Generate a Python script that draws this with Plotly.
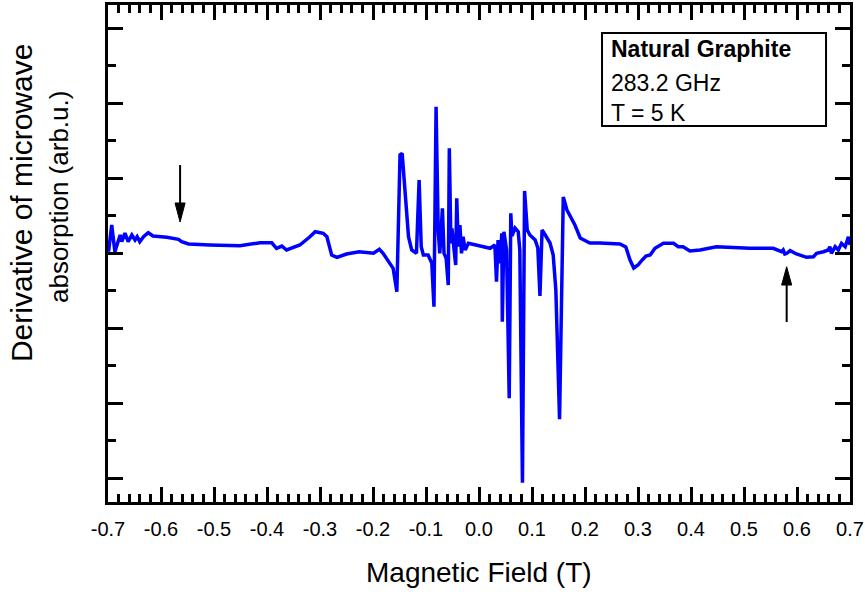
import plotly.graph_objects as go

# ---- data ----
field = [-0.699, -0.693, -0.687, -0.677, -0.674, -0.668, -0.662, -0.655, -0.649, -0.645,
         -0.640, -0.633, -0.624, -0.615, -0.589, -0.567, -0.561, -0.548, -0.508, -0.451,
         -0.413, -0.391, -0.382, -0.372, -0.363, -0.338, -0.319, -0.309, -0.294, -0.287,
         -0.278, -0.268, -0.250, -0.226, -0.199, -0.188, -0.181, -0.165, -0.162, -0.155,
         -0.149, -0.145, -0.140, -0.133, -0.127, -0.118, -0.113, -0.109, -0.105, -0.096,
         -0.089, -0.085, -0.081, -0.077, -0.074, -0.069, -0.066, -0.062, -0.058, -0.056,
         -0.053, -0.051, -0.047, -0.044, -0.042, -0.039, -0.036, -0.033, -0.030, -0.026,
         -0.020, -0.008, 0.021, 0.030, 0.033, 0.036, 0.040, 0.043, 0.044, 0.047,
         0.052, 0.057, 0.060, 0.062, 0.068, 0.074, 0.077, 0.082, 0.086, 0.091,
         0.096, 0.106, 0.111, 0.115, 0.119, 0.125, 0.134, 0.140, 0.145, 0.152,
         0.156, 0.159, 0.166, 0.181, 0.191, 0.200, 0.209, 0.228, 0.266, 0.277,
         0.285, 0.292, 0.300, 0.308, 0.315, 0.323, 0.332, 0.348, 0.367, 0.376,
         0.385, 0.398, 0.417, 0.448, 0.480, 0.511, 0.555, 0.571, 0.574, 0.577,
         0.581, 0.587, 0.599, 0.618, 0.631, 0.637, 0.650, 0.659, 0.662, 0.665,
         0.672, 0.678, 0.684, 0.691, 0.697, 0.700]
signal = [0.017, 0.373, 0.017, 0.240, 0.151, 0.267, 0.151, 0.240, 0.173, 0.217,
          0.151, 0.217, 0.271, 0.227, 0.209, 0.183, 0.151, 0.120, 0.107, 0.097,
          0.137, 0.137, 0.063, 0.093, 0.040, 0.107, 0.217, 0.284, 0.263, 0.217,
          -0.027, -0.057, -0.013, 0.017, -0.004, 0.049, -0.004, -0.160, -0.204, -0.516,
          1.307, 1.329, 0.840, 0.217, 0.040, -0.004, 0.973, 0.084, -0.027, -0.027,
          -0.137, -0.716, 1.951, 0.307, -0.004, 0.596, -0.004, -0.071, -0.427, 1.396,
          0.129, 0.329, 0.040, -0.160, 0.729, 0.084, 0.373, -0.004, 0.217, 0.040,
          0.129, 0.107, 0.063, 0.107, -0.383, 0.173, -0.137, 0.263, -0.916, 0.284,
          0.040, -1.937, 0.529, 0.227, 0.333, 0.284, 0.040, -3.063, 0.827, 0.307,
          0.240, 0.173, 0.067, -0.573, 0.307, 0.240, 0.133, -0.027, -0.493, -2.217,
          -0.693, 0.747, 0.573, 0.373, 0.200, 0.160, 0.133, 0.133, 0.120, 0.080,
          -0.093, -0.200, -0.160, -0.093, -0.040, -0.027, 0.063, 0.129, 0.129, 0.084,
          0.084, 0.027, 0.040, 0.084, 0.071, 0.063, 0.063, 0.017, 0.040, -0.013,
          -0.004, 0.031, -0.013, -0.057, -0.049, -0.004, 0.017, 0.040, 0.084, -0.004,
          0.084, 0.040, 0.129, 0.084, 0.217, 0.107]

x_tick_vals = [-0.7, -0.6, -0.5, -0.4, -0.3, -0.2, -0.1, 0.0, 0.1, 0.2, 0.3, 0.4, 0.5, 0.6, 0.7]
x_tick_text = ["-0.7", "-0.6", "-0.5", "-0.4", "-0.3", "-0.2", "-0.1", "0.0",
               "0.1", "0.2", "0.3", "0.4", "0.5", "0.6", "0.7"]
x_title = "Magnetic Field (T)"
y_title_lines = ["Derivative of microwave", "absorption (arb.u.)"]
box_lines = ["<b>Natural Graphite</b>", "283.2 GHz", "T = 5 K"]

# arrows: field position, tail, head base, tip (signal units)
arrow_field = [-0.564, 0.5805]
arrow_tail = [1.173, -0.92]
arrow_base = [0.667, -0.427]
arrow_tip = [0.413, -0.183]
arrow_half_width = 0.0095

FONT = "Liberation Sans, Arial, Helvetica, sans-serif"

fig = go.Figure(go.Scatter(x=field, y=signal, mode="lines",
                           line=dict(color="#0000ff", width=3.5)))

fig.update_layout(
    width=865, height=594,
    margin=dict(l=108, r=15, t=5, b=92),
    paper_bgcolor="white", plot_bgcolor="white",
    showlegend=False,
    font=dict(family=FONT, color="black"),
)

fig.update_xaxes(
    range=[-0.7, 0.7], tickmode="array", tickvals=x_tick_vals, ticktext=x_tick_text,
    showline=True, linewidth=3, linecolor="black", mirror="ticks",
    ticks="inside", ticklen=15, tickwidth=2.5, tickcolor="black",
    minor=dict(ticks="inside", ticklen=8, tickwidth=2.5, tickcolor="black",
               tick0=-0.7, dtick=0.02, showgrid=False),
    showgrid=False, zeroline=False, tickfont=dict(size=20, family=FONT),
    ticklabelstandoff=7, automargin=False,
)
fig.update_yaxes(
    range=[-3.32, 3.307], tick0=0, dtick=1, showticklabels=False,
    showline=True, linewidth=3, linecolor="black", mirror="ticks",
    ticks="inside", ticklen=15, tickwidth=2.5, tickcolor="black",
    minor=dict(ticks="inside", ticklen=8, tickwidth=2.5, tickcolor="black",
               tick0=0, dtick=0.5, showgrid=False),
    showgrid=False, zeroline=False, automargin=False,
)

# arrows
for fx, tail, base, tip in zip(arrow_field, arrow_tail, arrow_base, arrow_tip):
    fig.add_shape(type="line", xref="x", yref="y", x0=fx, x1=fx, y0=tail, y1=base,
                  line=dict(color="black", width=2))
    fig.add_shape(type="path", xref="x", yref="y",
                  path=f"M {fx - arrow_half_width},{base} L {fx + arrow_half_width},{base} L {fx},{tip} Z",
                  fillcolor="black", line=dict(color="black", width=1))

# info box
fig.add_shape(type="rect", xref="paper", yref="paper",
              x0=0.6658, x1=0.9677, y0=0.7565, y1=0.9437,
              line=dict(color="black", width=2), fillcolor="rgba(0,0,0,0)")
for txt, yy in zip(box_lines, [0.9115, 0.8431, 0.7827]):
    fig.add_annotation(text=txt, xref="paper", yref="paper", x=0.6755, y=yy,
                       xanchor="left", yanchor="middle", showarrow=False,
                       font=dict(size=23, family=FONT, color="black"))

# axis titles
fig.add_annotation(text=x_title, xref="paper", yref="paper", x=0.5, y=-0.1420,
                   xanchor="center", yanchor="middle", showarrow=False,
                   font=dict(size=28, family=FONT, color="black"))
for txt, xx, yy, fs in zip(y_title_lines, [-0.1172, -0.0660], [0.6016, 0.6137], [30, 26]):
    fig.add_annotation(text=txt, xref="paper", yref="paper", x=xx, y=yy,
                       xanchor="center", yanchor="middle", textangle=-90,
                       showarrow=False, font=dict(size=fs, family=FONT, color="black"))

fig.write_html("out.html", config={"displayModeBar": False},
               post_script="document.body.style.margin='0';document.body.style.padding='0';")
